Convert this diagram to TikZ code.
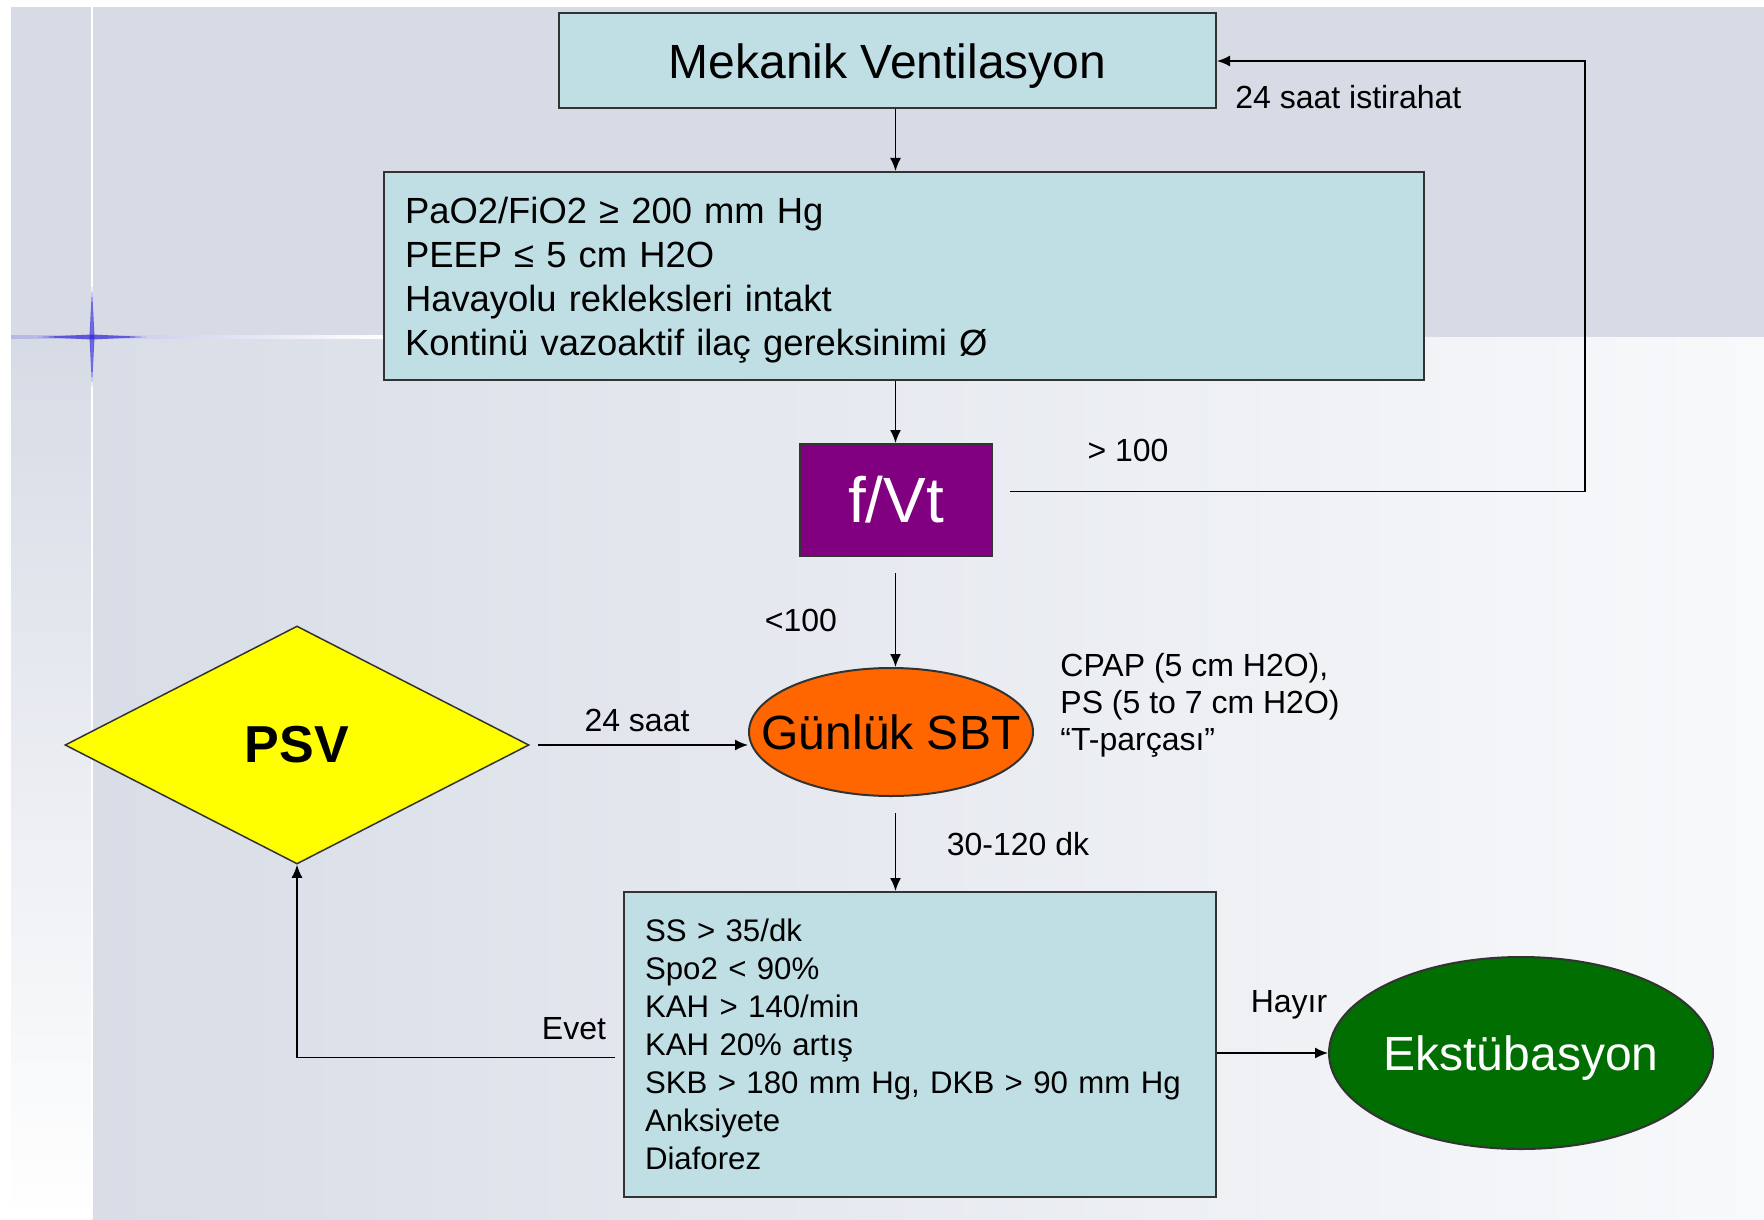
\documentclass[tikz,border=0pt]{standalone}
\usepackage{fontspec}
\setmainfont{Liberation Sans}
\usetikzlibrary{arrows,arrows.meta}
\usetikzlibrary{shapes}

\definecolor{bgGray}{RGB}{214,219,229}
\definecolor{bgLight}{RGB}{248,249,251}
\definecolor{starBlue}{RGB}{50,40,215}
\definecolor{boxBlue}{RGB}{192,223,228}
\definecolor{fvPurple}{RGB}{128,0,128}
\definecolor{sbtOrange}{RGB}{255,102,0}
\definecolor{psvYellow}{RGB}{255,255,0}
\definecolor{extGreen}{RGB}{0,110,0}

\begin{document}
\begin{tikzpicture}[x=0.5pt,y=-0.5pt,
		box/.style={draw=black!80,line width=1pt,fill=boxBlue,inner sep=0pt},
		link/.style={-{Latex[length=6.5pt,width=5.5pt]},line width=0.8pt},
		lbl/.style={font=\fontsize{16}{18.5}\selectfont,inner sep=0pt}]
			\useasboundingbox (0,0) rectangle (1764,1219);
			%% Slide Background
			\fill[white] (0,0) rectangle (1764,1219);
			\fill[bgGray] (11,7) rectangle (1764,337);
			\shade[left color=bgGray!95!white,right color=bgLight] (92,337) rectangle (1764,1219);
			\shade[top color=bgGray,bottom color=white] (11,337) rectangle (92,1219);
			\draw[white,line width=1pt] (92,7) -- (92,1219);
			\shade[left color=bgGray!80!starBlue,right color=white] (11,335.5) rectangle (384,338.5);
			\fill[starBlue,opacity=0.7] (38,337) -- (92,334.5) -- (146,337) -- (92,339.5) -- cycle;
			\fill[starBlue,opacity=0.7] (92,287) -- (94.5,337) -- (92,387) -- (89.5,337) -- cycle;
			\coordinate (spine) at (895.5,0);
			\coordinate (loopRight) at (1585,300);
			%% Boxes
			\path (887.5,61) node(nodeMV)[box,minimum width=328.5pt,minimum height=47.5pt,text depth=0pt,
				font=\fontsize{24}{28}\selectfont] {Mekanik Ventilasyon};
			\path (904,276) node(nodeCriteria)[box,minimum width=520pt,minimum height=104pt,text depth=65.8pt,
				text width=499pt,align=left,font=\fontsize{18.2}{22}\selectfont]
				{PaO2/FiO2 ≥ 200 mm Hg\\PEEP ≤ 5 cm H2O\\Havayolu rekleksleri intakt\\Kontinü vazoaktif ilaç gereksinimi Ø};
			\path (896,500) node(nodeFVt)[draw=black!80,line width=1pt,fill=fvPurple,text=white,
				minimum width=96pt,minimum height=56pt,font=\fontsize{32}{36}\selectfont] {f/Vt};
			% Uses Shapes
			\path (891,732) node(nodeSBT)[draw=black!80,line width=1pt,fill=sbtOrange,shape=ellipse,
				minimum width=142pt,minimum height=64pt,inner sep=0pt,
				font=\fontsize{24}{28}\selectfont] {\makebox[0pt]{Günlük SBT}};
			\path (297,745) node(nodePSV)[draw=black!80,line width=0.75pt,fill=psvYellow,shape=diamond,
				minimum width=232pt,minimum height=119pt,inner sep=0pt,
				font=\bfseries\fontsize{26}{30}\selectfont] {PSV};
			\path (920,1044.5) node(nodeCheck)[box,minimum width=296pt,minimum height=152.5pt,
				text width=275pt,align=left,font=\fontsize{15.6}{19}\selectfont]
				{SS > 35/dk\\Spo2 < 90\%\\KAH > 140/min\\KAH 20\% artış\\SKB > 180 mm Hg, DKB > 90 mm Hg\\Anksiyete\\Diaforez};
			\path (1521,1053) node(nodeExt)[draw=black!80,line width=1pt,fill=extGreen,text=white,shape=ellipse,
				minimum width=192pt,minimum height=96pt,inner sep=0pt,text depth=0pt,
				font=\fontsize{24}{28}\selectfont] {\makebox[0pt]{Ekstübasyon}};
			%% Labels
			\path (1235,97) node(lblRest)[lbl,anchor=west] {24 saat istirahat};
			\path (1128,450) node(lblHigh)[lbl] {> 100};
			\path (801,620) node(lblLow)[lbl] {<100};
			\path (637,720) node(lblPSV)[lbl] {24 saat};
			\path (1060,705) node(lblModes)[lbl,anchor=west,align=left]
				{CPAP (5 cm H2O),\\PS (5 to 7 cm H2O)\\“T-parçası”};
			\path (1018,844) node(lblTime)[lbl] {30-120 dk};
			\path (574,1029) node(lblYes)[lbl] {Evet};
			\path (1289,1005) node(lblNo)[lbl] {Hayır};
			%% Drawing Connecting Arrows
			\draw[link] (nodeMV.south -| spine) -- (nodeCriteria.north -| spine);
			\draw[link] (nodeCriteria.south -| spine) -- (nodeFVt.north -| spine);
			\draw[link,shorten <=8pt] (nodeFVt.south -| spine) -- (nodeSBT.north -| spine);
			\draw[link,shorten <=8.5pt] ([yshift=4.2pt]nodeFVt.east) -| (loopRight) |- (nodeMV.east);
			\draw[link,shorten <=4pt] (nodePSV.east) -- (nodePSV.east -| nodeSBT.west);
			\draw[link,shorten <=8pt] (nodeSBT.south -| spine) -- (nodeCheck.north -| spine);
			\draw[link,shorten <=4pt] ([yshift=-6.5pt]nodeCheck.west) -| (nodePSV.south);
			\draw[link] (nodeCheck.east |- nodeExt.west) -- (nodeExt.west);
		\end{tikzpicture}
\end{document}
